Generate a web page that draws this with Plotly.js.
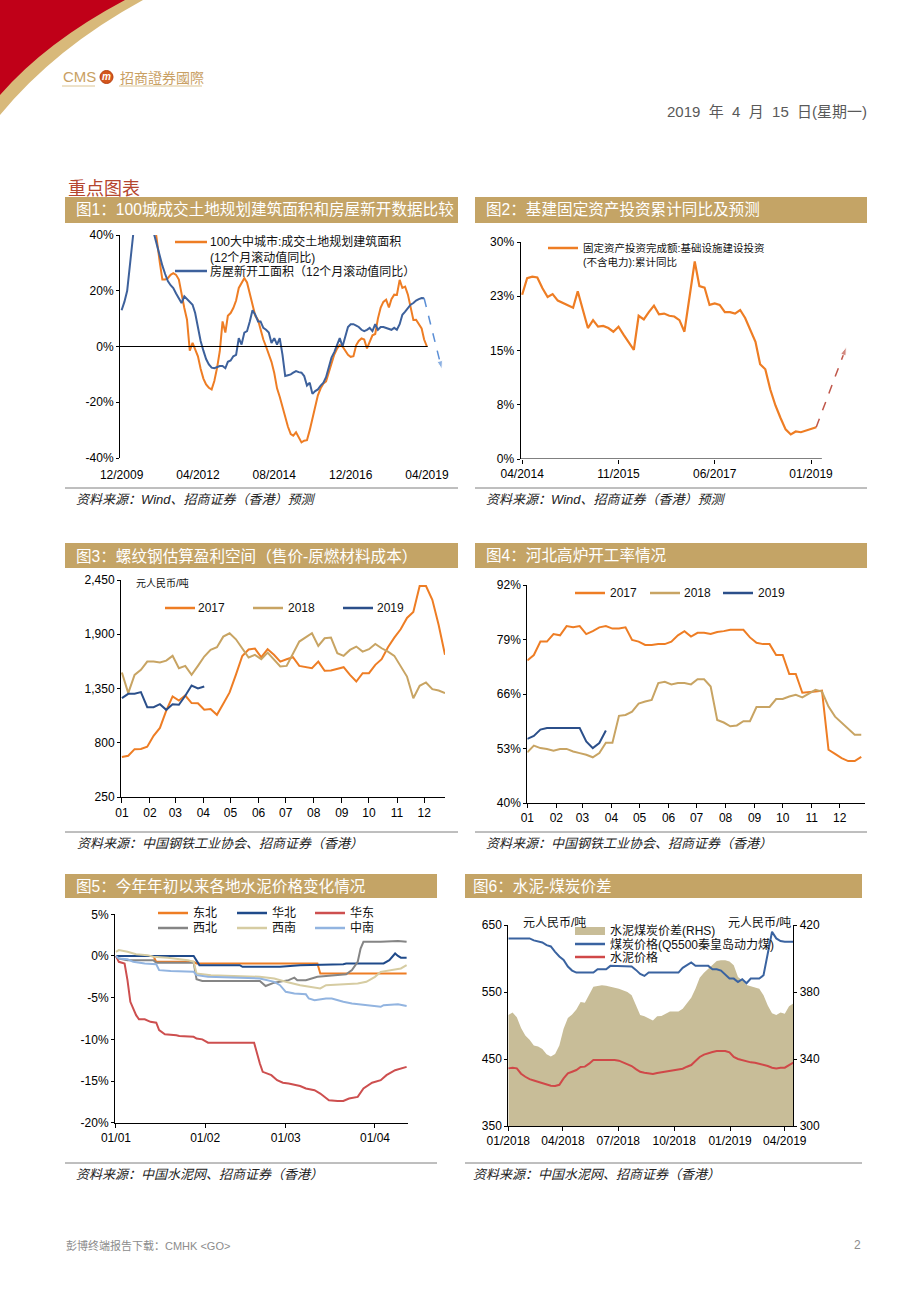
<!DOCTYPE html>
<html><head><meta charset="utf-8">
<script src="https://cdn.plot.ly/plotly-3.0.1.min.js"></script>
<style>html,body{margin:0;padding:0;background:#fff;}#chart{width:920px;height:1300px;}</style>
</head><body><div id="chart"></div>
<script>
// ---------------- DATA ----------------
// Chart 1 (monthly, %)
const newStartsYoY = [13,16,20,30,42,55,62,65,63,58,52,46,40,36,33,29,26,23.5,22,21,19,17,15.6,18,17,16,15,12,6.5,2,-1.5,-4.5,-6.4,-7.6,-7.8,-7.3,-7,-7,-7.8,-5.5,-5,-3.5,-3,3,0.7,5,5.5,9,13,11.4,9,9,6.7,6,5,1.3,3,0.7,3,-3,-10.6,-10.3,-10,-9.4,-8.8,-9.2,-9.4,-10.6,-14,-13,-17,-16,-15.4,-14,-13,-11,-7.6,-4,-2,0.7,3,0,4,7,8,8,7.5,7,6,5.5,6,6.7,5.5,8,6,7,7,6.7,6.5,6,6.7,6,8,11.4,12.5,13.8,15,15.6,16.5,17,17.4,17.3];
const landAreaYoY = [45,37,30,24,24,24.5,25.7,26.3,25.7,24,18.6,13.8,9.6,-1.5,1.3,-1,-3.5,-8,-11.5,-13.6,-14.8,-15.4,-12.4,-7.6,-1.7,9,5,11,12,13.8,16.5,21,22.7,24.5,23,19,16,11,9.5,6,2.5,0,-2.5,-5.5,-9.5,-15,-18,-21.9,-25.5,-28.8,-31.4,-32,-30.8,-32.5,-34.4,-33.8,-33.6,-30,-26,-21,-17.5,-15,-13.3,-12.5,-9,-5.8,-2.9,-0.8,0.5,0,-1.5,-3,-3.7,-3.5,0.5,2,2.9,2.5,-0.7,2,4,4.5,10,14,16,16.8,14,17,18.6,18.5,23.9,21,21.5,18.6,14.4,9.5,9.6,8,6.5,2.5,0];
const c1ForecastX = ['2019-03-01','2019-09-15'];
const c1ForecastY = [17.3,-8.2];
const c1TickVals = ['2009-12-01','2012-04-01','2014-08-01','2016-12-01','2019-04-01'];
const c1TickText = ['12/2009','04/2012','08/2014','12/2016','04/2019'];

// Chart 2 (infrastructure FAI, cumulative YoY %)
const infraDates = ['2014-04','2014-05','2014-06','2014-07','2014-08','2014-09','2014-10','2014-11','2015-02','2015-03','2015-04','2015-05','2015-06','2015-07','2015-08','2015-09','2015-10','2015-11','2015-12','2016-02','2016-03','2016-04','2016-05','2016-06','2016-07','2016-08','2016-09','2016-10','2016-11','2016-12','2017-02','2017-03','2017-04','2017-05','2017-06','2017-07','2017-08','2017-09','2017-10','2017-11','2017-12','2018-01','2018-02','2018-03','2018-04','2018-05','2018-06','2018-07','2018-08','2018-09','2018-10','2018-11','2018-12','2019-01','2019-02'];
const infraYoY = [22.7,25.0,25.2,25.1,23.6,22.4,22.8,21.9,20.9,23.2,20.6,18.1,19.2,18.3,18.4,18.1,17.6,18.3,17.2,15.1,19.8,19.3,20.3,21.2,20.0,20.1,19.8,19.7,19.2,17.6,27.3,23.9,23.7,21.3,21.5,21.3,20.3,20.3,20.1,20.6,19.5,17.8,16.2,13.1,12.4,9.6,7.4,5.7,4.1,3.4,3.8,3.7,3.9,4.2,4.4];
const c2ForecastX = ['2019-02-01','2019-08-01'];
const c2ForecastY = [4.4,15.5];
const c2TickVals = ['2014-04-01','2015-11-01','2017-06-01','2019-01-01'];
const c2TickText = ['04/2014','11/2015','06/2017','01/2019'];

// Chart 3 (rebar margin, yuan/t, weekly)
const rebar2017 = [655,668,735,736,760,870,950,1125,1270,1228,1279,1202,1201,1134,1141,1083,1195,1310,1490,1680,1745,1755,1667,1748,1692,1623,1647,1667,1579,1566,1556,1623,1529,1532,1546,1566,1488,1421,1505,1505,1590,1647,1768,1866,1950,2065,2125,2389,2389,2250,1994,1691];
const rebar2018 = [1512,1303,1488,1539,1623,1623,1613,1633,1681,1556,1579,1488,1579,1674,1741,1768,1876,1910,1849,1758,1664,1691,1647,1714,1647,1573,1579,1708,1826,1869,1910,1782,1859,1866,1708,1681,1741,1775,1724,1748,1802,1758,1724,1681,1573,1471,1252,1377,1411,1343,1330,1303];
const rebar2019 = [1252,1296,1296,1313,1161,1161,1191,1134,1191,1185,1276,1380,1350,1370];

// Chart 4 (Hebei blast furnace utilisation %, weekly)
const bf2017 = [74.0,75.3,78.5,78.5,80.3,80.0,82.2,81.9,82.2,80.3,81.0,81.9,82.2,81.6,81.6,81.9,78.9,78.5,77.7,77.7,77.9,77.9,78.5,80.0,81.0,79.7,80.6,80.6,80.3,80.8,81.0,81.3,81.3,81.3,79.5,78.2,77.9,77.9,75.3,75.3,70.8,70.8,66.3,66.4,66.6,66.8,52.7,51.7,50.7,50.0,50.0,51.0];
const bf2018 = [52.1,53.7,53.1,52.9,52.5,52.9,52.9,52.3,51.9,51.5,50.9,51.9,54.4,54.4,60.8,61.0,61.8,63.7,64.2,64.6,68.6,68.9,68.3,68.6,68.6,68.3,69.5,69.5,67.8,59.8,59.2,58.3,58.5,59.5,59.5,62.9,62.9,62.9,64.8,64.8,65.4,65.8,65.2,66.2,67.0,66.6,63.0,60.6,59.2,57.9,56.3,56.3];
const bf2019 = [55.3,56.0,57.5,57.9,57.9,57.9,57.9,57.9,57.9,54.7,53.1,54.3,57.3];

// Chart 5 (cement price change YTD %, 2019)
const neDates = ['01-01','01-14','01-15','01-28','01-29','03-12','03-13','04-12'];
const neVals = [0,0,-0.7,-0.7,-0.9,-0.9,-2.1,-2.1];
const nDates = ['01-01','01-28','01-30','02-13','02-14','02-27','03-06','03-21','03-22','04-04','04-06','04-08','04-09','04-10','04-12'];
const nVals = [0,0,-1.1,-1.1,-1.3,-1.3,-1.1,-1.0,-0.9,-0.9,-0.5,0.3,0,-0.2,-0.2];
const eDates = ['01-01','01-02','01-04','01-05','01-06','01-08','01-09','01-11','01-13','01-15','01-16','01-18','01-22','01-23','01-28','01-29','01-31','02-02','02-18','02-19','02-20','02-21','02-24','02-26','02-28','03-02','03-06','03-08','03-11','03-13','03-15','03-16','03-19','03-21','03-23','03-26','03-28','03-31','04-03','04-05','04-08','04-11','04-12'];
const eVals = [0,-0.7,-0.9,-2.9,-5.5,-7.1,-7.6,-7.6,-7.9,-8.0,-8.9,-9.4,-9.5,-9.6,-9.7,-9.9,-10.0,-10.4,-10.4,-11.7,-12.9,-13.9,-14.3,-14.9,-15.2,-15.3,-15.6,-15.9,-16.1,-16.5,-17.1,-17.3,-17.4,-17.4,-17.1,-16.9,-15.9,-15.2,-14.9,-14.3,-13.7,-13.4,-13.3];
const nwDates = ['01-01','01-02','01-05','01-14','01-15','01-28','01-29','01-31','02-20','02-22','02-25','02-27','03-02','03-04','03-05','03-08','03-12','03-15','03-19','03-22','03-24','03-26','03-27','03-28','04-03','04-09','04-12'];
const nwVals = [0,-0.3,-0.5,-0.5,-0.8,-0.8,-2.8,-3.0,-3.0,-3.6,-3.2,-3.1,-2.9,-2.6,-2.9,-2.9,-2.5,-2.4,-2.3,-2.2,-1.7,-0.7,0.9,1.7,1.7,1.8,1.7];
const swDates = ['01-01','01-02','01-05','01-08','01-12','01-14','01-19','01-22','01-26','01-28','01-29','02-03','02-13','02-20','02-25','03-01','03-06','03-10','03-13','03-15','03-19','03-26','03-29','04-01','04-03','04-07','04-10','04-12'];
const swVals = [0.5,0.7,0.5,0.2,0.1,-0.1,-0.2,-0.3,-0.5,-0.7,-2.1,-2.3,-2.4,-2.5,-2.7,-3.1,-3.5,-3.7,-3.9,-3.5,-3.4,-3.3,-3.1,-2.5,-1.9,-1.7,-1.5,-1.1];
const csDates = ['01-01','01-02','01-05','01-07','01-11','01-15','01-16','01-20','01-28','01-29','02-02','02-13','02-20','02-25','02-27','03-01','03-04','03-08','03-09','03-11','03-15','03-17','03-21','03-24','03-29','04-03','04-04','04-09','04-12'];
const csVals = [0,-0.3,-0.4,-0.7,-0.9,-1.0,-1.7,-1.8,-1.9,-2.3,-2.5,-2.6,-2.7,-3.1,-3.5,-4.3,-4.5,-4.6,-5.1,-5.3,-5.1,-5.1,-5.5,-5.7,-5.9,-6.1,-5.9,-5.8,-6.0];

// Chart 6 (weekly from 2018-01-01, yuan/t)
const coalPrice = [630,630,630,630,630,630,627,625,624,620,618,610,603,598,588,582,579,579,579,579,579,584,584,584,589,589,589,589,589,588,583,577,574,579,579,579,579,579,579,579,579,586,590,594,589,589,589,589,584,584,582,576,570,570,565,569,563,570,570,570,575,605,640,630,626,625,625,625];
const cementPrice = [436,437,436,428,423.5,420,418,416,415,412,410,409.7,411.5,421,428.6,431,433.5,438,438.6,443,448.5,448.5,448.5,449,449.5,448.5,447.5,445,443,439.5,435,431,429.6,428.5,427.5,429,430,431.5,432.6,433,433.6,435.5,438.5,441,447,453,456.5,459,460.5,462,462.5,462,460,453,450,448.5,446,445,444.5,443,441.5,439.5,437,436,437,437,441,444.5];
const cementCoalSpread = [366.3,367.7,365,358.5,354,351.5,348,347.4,346,342.8,341.5,343,348,358,364.5,366.5,369.5,374,373.6,378.5,383.2,383.6,384,383.8,383,382.5,382,381,380,378,372,366.3,365.5,364,363,365.5,365.7,367,368.3,368.3,368.3,370,373.5,376.5,382,388.5,391.5,394,396.5,398.5,399,399,398.2,396,389,387,384.2,383.5,383,382,378,372,367.3,366.3,367.7,367,371.5,373.2];

const monthTicks = ['2017-01-01','2017-02-01','2017-03-01','2017-04-01','2017-05-01','2017-06-01','2017-07-01','2017-08-01','2017-09-01','2017-10-01','2017-11-01','2017-12-01'];
const monthText = ['01','02','03','04','05','06','07','08','09','10','11','12'];

// ---------------- HELPERS ----------------
const W=920,H=1300;
const X=v=>v/W, Y=v=>1-v/H;
const LAT='Liberation Sans, Arial, Noto Sans CJK SC, sans-serif';
const CJK='Noto Sans CJK SC, Liberation Sans, sans-serif';
function monthly(y,m,n){const o=[];for(let i=0;i<n;i++){const yy=y+Math.floor((m-1+i)/12);const mm=((m-1+i)%12)+1;o.push(yy+'-'+String(mm).padStart(2,'0')+'-01');}return o;}
function weekly(start,n){const t0=Date.parse(start+'T00:00:00Z');const o=[];for(let i=0;i<n;i++){o.push(new Date(t0+i*7*864e5).toISOString().slice(0,10));}return o;}
const y19=a=>a.map(d=>'2019-'+d);

const ORANGE='#EE7D24', BLUE1='#3D619C', TAN='#C8A463', NAVY='#2B4F8A', BAND='#C4A466';
const shapes=[], ann=[];
function line(x0,y0,x1,y1,color,width,dash){shapes.push({type:'line',xref:'paper',yref:'paper',x0:X(x0),y0:Y(y0),x1:X(x1),y1:Y(y1),line:{color:color,width:width||1,dash:dash||'solid'}});}
function rect(x0,y0,x1,y1,fill){shapes.push({type:'rect',xref:'paper',yref:'paper',x0:X(x0),y0:Y(y0),x1:X(x1),y1:Y(y1),fillcolor:fill,line:{width:0}});}
function txt(x,y,text,size,color,opt){opt=opt||{};ann.push({xref:'paper',yref:'paper',x:X(x),y:Y(y),text:text,showarrow:false,xanchor:opt.xa||'left',yanchor:'middle',borderpad:0,font:{family:opt.family||LAT,size:size,color:color}});}

// ---------------- HEADER ----------------
shapes.push({type:'path',xref:'paper',yref:'paper',path:`M ${X(0)},${Y(0)} L ${X(143)},${Y(0)} Q ${X(55)},${Y(48)} ${X(0)},${Y(115)} Z`,fillcolor:'#D8B97A',line:{width:0}});
shapes.push({type:'path',xref:'paper',yref:'paper',path:`M ${X(0)},${Y(0)} L ${X(125)},${Y(0)} Q ${X(46)},${Y(42)} ${X(0)},${Y(95)} Z`,fillcolor:'#C00018',line:{width:0}});
txt(62,77,'CMS',15,'#C9A063');
shapes.push({type:'circle',xref:'paper',yref:'paper',x0:X(100),y0:Y(70.5),x1:X(113),y1:Y(83.5),fillcolor:'#D4561C',line:{color:'#B8400F',width:1}});
txt(106.5,77,'<b><i>m</i></b>',10,'#FFF',{xa:'center'});
txt(119,77,'招商證券國際',14,'#C9A063',{family:'Noto Sans CJK TC, sans-serif'});
line(62,86,95,86,'#DCC594',1); line(119,86,202,86,'#DCC594',1);
txt(868,111,'2019&nbsp;&nbsp;年&nbsp;&nbsp;4&nbsp;&nbsp;月&nbsp;&nbsp;15&nbsp;&nbsp;日(星期一)',15,'#595959',{xa:'right'});
txt(67,187,'重点图表',18,'#B5462F',{family:CJK});

// bands, titles, source lines
const bands=[[65,197,458,223,'图1：100城成交土地规划建筑面积和房屋新开数据比较',75],[475,197,867,223,'图2：基建固定资产投资累计同比及预测',485],[65,543,458,568,'图3：螺纹钢估算盈利空间（售价-原燃材料成本）',75],[475,543,867,568,'图4：河北高炉开工率情况',485],[65,874,437,898,'图5：今年年初以来各地水泥价格变化情况',75],[465,874,862,898,'图6：水泥-煤炭价差',472]];
bands.forEach(b=>{rect(b[0],b[1],b[2],b[3],BAND);txt(b[5],(b[1]+b[3])/2,b[4],15.6,'#FFF');});
const srcs=[[65,458,488,75,'资料来源：Wind、招商证券（香港）预测'],[475,867,488,485,'资料来源：Wind、招商证券（香港）预测'],[65,458,832,76,'资料来源：中国钢铁工业协会、招商证券（香港）'],[475,867,832,485,'资料来源：中国钢铁工业协会、招商证券（香港）'],[65,437,1163,75,'资料来源：中国水泥网、招商证券（香港）'],[465,862,1163,472,'资料来源：中国水泥网、招商证券（香港）']];
srcs.forEach(s=>{line(s[0],s[2],s[1],s[2],'#7F7F7F',1);txt(s[3],s[2]+11,'<i>'+s[4]+'</i>',13,'#222');});
txt(65,1245,'彭博终端报告下载：CMHK &lt;GO&gt;',11,'#8C8C8C');
txt(862,1245,'2',12,'#8C8C8C',{xa:'right'});

// ---------------- TRACES ----------------
const traces=[];
const L=(x,y,xa,ya,color,w,extra)=>Object.assign({x:x,y:y,xaxis:xa,yaxis:ya,mode:'lines',line:{color:color,width:w||2},hoverinfo:'skip'},extra||{});
// chart1
traces.push(L(monthly(2010,12,landAreaYoY.length),landAreaYoY,'x','y',ORANGE,2));
traces.push(L(monthly(2009,12,newStartsYoY.length),newStartsYoY,'x','y',BLUE1,2));
traces.push({x:c1ForecastX,y:c1ForecastY,xaxis:'x',yaxis:'y',mode:'lines+markers',line:{color:'#5B8FD6',width:1.5,dash:'dash'},marker:{symbol:'arrow',angleref:'previous',size:[0,9],color:'#5B8FD6'},cliponaxis:false});
shapes.push({type:'line',xref:'x',yref:'y',x0:'2009-11-13',x1:'2019-04-10',y0:0,y1:0,line:{color:'#000',width:1}});
// chart2
traces.push(L(infraDates.map(d=>d+'-01'),infraYoY,'x2','y2',ORANGE,2.2));
traces.push({x:c2ForecastX,y:c2ForecastY,xaxis:'x2',yaxis:'y2',mode:'lines+markers',line:{color:'#C0574A',width:1.5,dash:'dash'},marker:{symbol:'arrow',angleref:'previous',size:[0,9],color:'#C0574A'},cliponaxis:false});
shapes.push({type:'line',xref:'x2',yref:'y2',x0:'2014-03-22',x1:'2019-03-07',y0:0,y1:0,line:{color:'#000',width:1}});
// chart3
traces.push(L(weekly('2017-01-01',rebar2017.length),rebar2017,'x3','y3',ORANGE,2));
traces.push(L(weekly('2017-01-01',rebar2018.length),rebar2018,'x3','y3',TAN,2));
traces.push(L(weekly('2017-01-01',rebar2019.length),rebar2019,'x3','y3',NAVY,2));
// chart4
traces.push(L(weekly('2017-01-01',bf2017.length),bf2017,'x4','y4',ORANGE,2));
traces.push(L(weekly('2017-01-01',bf2018.length),bf2018,'x4','y4',TAN,2));
traces.push(L(weekly('2017-01-01',bf2019.length),bf2019,'x4','y4',NAVY,2));
// chart5
const C5={ne:'#EE7D24',n:'#1F4A8A',e:'#CD4F4F',nw:'#858585',sw:'#D6CCA2',cs:'#92B4E0'};
traces.push(L(y19(neDates),neVals,'x5','y5',C5.ne,2));
traces.push(L(y19(nDates),nVals,'x5','y5',C5.n,2));
traces.push(L(y19(eDates),eVals,'x5','y5',C5.e,2));
traces.push(L(y19(nwDates),nwVals,'x5','y5',C5.nw,2));
traces.push(L(y19(swDates),swVals,'x5','y5',C5.sw,2));
traces.push(L(y19(csDates),csVals,'x5','y5',C5.cs,2));
// chart6
const w6=weekly('2018-01-01',coalPrice.length);
traces.push({x:w6,y:cementCoalSpread,xaxis:'x6',yaxis:'y6',mode:'lines',line:{width:0,color:'#C8BD98'},fill:'tozeroy',fillcolor:'#C8BD98',hoverinfo:'skip'});
traces.push(L(w6,coalPrice,'x6','y7','#3A63A0',2));
traces.push(L(w6,cementPrice,'x6','y7','#D04848',2));

// ---------------- LEGENDS ----------------
line(175,242,207,242,ORANGE,2.5); txt(209,242,'100大中城市:成交土地规划建筑面积',12,'#111');
txt(209,257,'(12个月滚动值同比)',12,'#111');
line(175,271,207,271,BLUE1,2.5); txt(209,271,'房屋新开工面积（12个月滚动值同比）',12,'#111');
line(548,248,578,248,ORANGE,2.5); txt(582,248,'固定资产投资完成额:基础设施建设投资',10.5,'#111');
txt(582,262,'(不含电力):累计同比',10.5,'#111');
txt(135,583,'元人民币/吨',10,'#111');
[[165,ORANGE,'2017',197],[253,TAN,'2018',287],[343,NAVY,'2019',376]].forEach(a=>{line(a[0],608,a[0]+30,608,a[1],2.5);txt(a[3],608,a[2],12,'#111');});
[[575,ORANGE,'2017',609],[650,TAN,'2018',683],[723,NAVY,'2019',757]].forEach(a=>{line(a[0],593,a[0]+30,593,a[1],2.5);txt(a[3],593,a[2],12,'#111');});
[[158,913,C5.ne,'东北'],[237,913,C5.n,'华北'],[315,913,C5.e,'华东'],[158,928,C5.nw,'西北'],[237,928,C5.sw,'西南'],[315,928,C5.cs,'中南']].forEach(a=>{line(a[0],a[1],a[0]+30,a[1],a[2],2.5);txt(a[0]+34,a[1],a[3],12,'#111');});
rect(575,927,605,935,'#C8BD98'); txt(609,931,'水泥煤炭价差(RHS)',12,'#111');
line(575,944,605,944,'#3A63A0',2.5); txt(609,944,'煤炭价格(Q5500秦皇岛动力煤)',12,'#111');
line(575,957,605,957,'#D04848',2.5); txt(609,957,'水泥价格',12,'#111');
txt(522,923,'元人民币/吨',12,'#111'); txt(727,923,'元人民币/吨',12,'#111');

// ---------------- AXES ----------------
const TF={family:LAT,size:12,color:'#000'};
const base={showgrid:false,zeroline:false,linecolor:'#000',linewidth:1,tickfont:TF,fixedrange:true,tickcolor:'#000',ticks:'outside',ticklen:3};
const ax=o=>Object.assign({},base,o);
const layout={
  width:W,height:H,margin:{l:0,r:0,t:0,b:0},paper_bgcolor:'#fff',plot_bgcolor:'rgba(0,0,0,0)',showlegend:false,
  xaxis:ax({type:'date',domain:[X(120),X(445)],anchor:'y',range:['2009-11-13','2019-10-20'],tickvals:c1TickVals,ticktext:c1TickText,showline:false,ticklen:6,tickcolor:'rgba(0,0,0,0)'}),
  yaxis:ax({domain:[Y(458),Y(235)],anchor:'x',range:[-40,40],tickvals:[-40,-20,0,20,40],ticktext:['-40%','-20%','0%','20%','40%'],showline:true}),
  xaxis2:ax({type:'date',domain:[X(520.5),X(850)],anchor:'y2',range:['2014-03-22','2019-08-23'],tickvals:c2TickVals,ticktext:c2TickText,showline:false,ticklen:4}),
  yaxis2:ax({domain:[Y(459),Y(242)],anchor:'x2',range:[0,30],tickvals:[0,7.5,15,22.5,30],ticktext:['0%','8%','15%','23%','30%'],showline:true}),
  xaxis3:ax({type:'date',domain:[X(121),X(445)],anchor:'y3',range:['2016-12-31','2017-12-24'],tickvals:monthTicks,ticktext:monthText,showline:true,ticklen:5}),
  yaxis3:ax({domain:[Y(797),Y(580)],anchor:'x3',range:[250,2450],tickvals:[250,800,1350,1900,2450],ticktext:['250','800','1,350','1,900','2,450'],showline:true}),
  xaxis4:ax({type:'date',domain:[X(527.3),X(865)],anchor:'y4',range:['2017-01-01','2017-12-28'],tickvals:monthTicks,ticktext:monthText,showline:true,ticklen:4}),
  yaxis4:ax({domain:[Y(803),Y(585)],anchor:'x4',range:[40,92],tickvals:[40,53,66,79,92],ticktext:['40%','53%','66%','79%','92%'],showline:true}),
  xaxis5:ax({type:'date',domain:[X(115),X(408.3)],anchor:'y5',range:['2018-12-31 16:00','2019-04-12 14:00'],tickvals:['2019-01-01','2019-02-01','2019-03-01','2019-04-01'],ticktext:['01/01','01/02','01/03','01/04'],showline:true,ticklen:4}),
  yaxis5:ax({domain:[Y(1122.7),Y(914.3)],anchor:'x5',range:[-20,5],tickvals:[-20,-15,-10,-5,0,5],ticktext:['-20%','-15%','-10%','-5%','0%','5%'],showline:true}),
  xaxis6:ax({type:'date',domain:[X(508.3),X(793.3)],anchor:'y6',range:['2018-01-01','2019-04-15'],tickvals:['2018-01-01','2018-04-01','2018-07-01','2018-10-01','2019-01-01','2019-04-01'],ticktext:['01/2018','04/2018','07/2018','10/2018','01/2019','04/2019'],showline:true,ticklen:4}),
  yaxis6:ax({domain:[Y(1126),Y(925)],anchor:'x6',side:'right',range:[300,420],tickvals:[300,340,380,420],showline:true}),
  yaxis7:ax({overlaying:'y6',anchor:'x6',side:'left',range:[350,650],tickvals:[350,450,550,650],showline:true}),
  shapes:shapes,annotations:ann
};
Plotly.newPlot('chart',traces,layout,{displayModeBar:false,staticPlot:true});
</script></body></html>
